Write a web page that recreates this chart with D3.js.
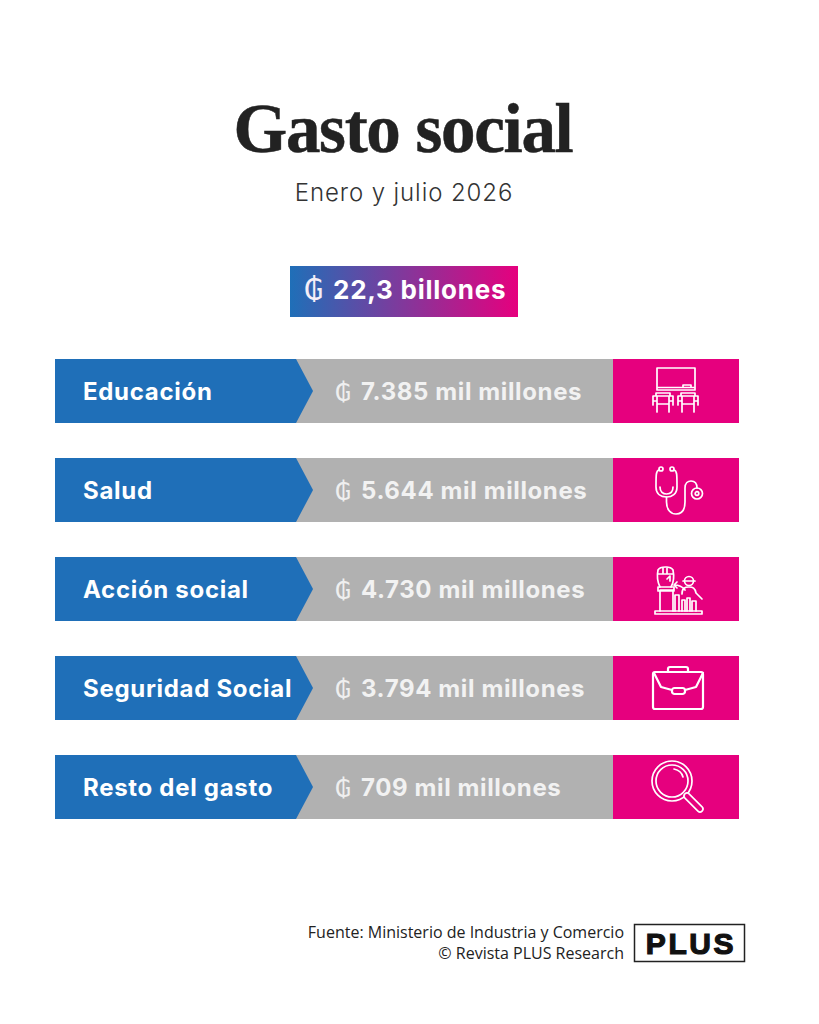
<!DOCTYPE html>
<html>
<head>
<meta charset="utf-8">
<script src="https://d3js.org/d3.v7.min.js"></script>
<style>
html, body { margin: 0; padding: 0; background: #fff; }
svg { display: block; }
text { font-family: Inter, sans-serif; }
</style>
</head>
<body>
<svg width="819" height="1024"></svg>
<script>
var categories = ["Educación", "Salud", "Acción social", "Seguridad Social", "Resto del gasto"];
var values = [7385, 5644, 4730, 3794, 709];
var icons = ["board", "steth", "fist", "case", "glass"];
var total = "22,3 billones";

var blue = "#1f6fb8", grey = "#b1b1b1", pink = "#e6007e";
var svg = d3.select("svg");

var es = d3.formatLocale({decimal: ",", thousands: ".", grouping: [3], currency: ["₲", ""]});
var fmt = es.format(",d");

var y = d3.scalePoint().domain(categories).range([359, 755]);
var barH = 64;

// gradient for the total
var grad = svg.append("defs").append("linearGradient").attr("id", "tot");
grad.append("stop").attr("offset", "0%").attr("stop-color", blue);
grad.append("stop").attr("offset", "100%").attr("stop-color", pink);

svg.append("text").attr("x", 403).attr("y", 152).attr("text-anchor", "middle")
    .style("font-family", "'Liberation Serif', serif").style("font-weight", 700)
    .style("font-size", "69px").style("letter-spacing", "-1.3px").attr("fill", "#222")
    .style("stroke", "#222").style("stroke-width", "0.5px")
    .text("Gasto social");

svg.append("text").attr("x", 404).attr("y", 201).attr("text-anchor", "middle")
    .style("font-weight", 300).style("font-size", "24px").style("letter-spacing", "0.9px").attr("fill", "#333")
    .text("Enero y julio 2026");

svg.append("rect").attr("x", 290).attr("y", 266).attr("width", 228).attr("height", 51).attr("fill", "url(#tot)");
svg.append("text").attr("x", 304).attr("y", 300)
    .style("font-family", "'DejaVu Sans'").style("font-size", "30px").attr("fill", "#f4eef8").text("₲");
svg.append("text").attr("x", 333).attr("y", 299)
    .style("font-weight", 700).style("font-size", "26px").style("letter-spacing", "0.75px").attr("fill", "#fff").text(total);

var row = svg.selectAll("g.row").data(categories).enter().append("g")
    .attr("class", "row")
    .attr("transform", function(d) { return "translate(0," + y(d) + ")"; });

row.append("rect").attr("x", 296).attr("width", 317).attr("height", barH).attr("fill", grey);
row.append("rect").attr("x", 613).attr("width", 126).attr("height", barH).attr("fill", pink);
row.append("path").attr("fill", blue)
    .attr("d", "M55,0H296L313," + barH / 2 + "L296," + barH + "H55Z");

row.append("text").attr("x", 83).attr("y", 41)
    .style("font-weight", 700).style("font-size", "24px").style("letter-spacing", "0.7px").attr("fill", "#fff")
    .text(function(d) { return d; });

row.append("text").attr("x", 335).attr("y", 42)
    .style("font-family", "'DejaVu Sans'").style("font-size", "25px").attr("fill", "#efefef").text("₲");

row.append("text").attr("x", 361).attr("y", 41)
    .style("font-weight", 700).style("font-size", "24px").style("letter-spacing", "0.62px").attr("fill", "#f2f2f2")
    .text(function(d, i) { return fmt(values[i]) + " mil millones"; });

// icons, drawn round the middle of each pink box
var ic = row.append("g")
    .attr("transform", "translate(676," + barH / 2 + ")")
    .attr("fill", "none").attr("stroke", "#fff").attr("stroke-width", 1.7)
    .attr("stroke-linejoin", "round").attr("stroke-linecap", "round");

var shapes = {
    board: function(g) {
        g.append("rect").attr("x", -19).attr("y", -23).attr("width", 38).attr("height", 22);
        g.append("path").attr("d", "M-18,-3.5H18M7,-3.5V-6H15V-3.5");
        [-13, 12].forEach(function(cx) {
            g.append("path").attr("d", "M" + (cx - 7) + ",5V2H" + (cx + 7) + "V5"
                + "M" + (cx - 10) + ",5H" + (cx + 10) + "M" + (cx - 10) + ",5V14M" + (cx + 10) + ",5V14"
                + "M" + (cx - 6) + ",5V21M" + (cx + 6) + ",5V21M" + (cx - 6) + ",13H" + (cx + 6)
                + "M" + (cx - 10) + ",10H" + (cx - 6) + "M" + (cx + 6) + ",10H" + (cx + 10));
        });
    },
    steth: function(g) {
        g.append("circle").attr("cx", -15).attr("cy", -21).attr("r", 2);
        g.append("circle").attr("cx", -4).attr("cy", -21).attr("r", 2);
        g.append("path").attr("d", "M-17,-20C-20,-19 -20,-16 -20,-3C-20,4 -15,7 -9.500,7C-4,7 1,4 1,-3C1,-16 1,-19 -2,-20");
        g.append("path").attr("d", "M-16,-3C-16,2 -13,4 -9.500,4C-6,4 -3,2 -3,-3");
        g.append("path").attr("d", "M-9.500,7V12C-9.500,20 -5,24 0,24C6,24 9,20 9,12V-2C9,-7 12,-9 15,-9C19,-9 21,-6 21,-2");
        g.append("circle").attr("cx", 21).attr("cy", 3.500).attr("r", 5.500);
        g.append("circle").attr("cx", 21).attr("cy", 3.500).attr("r", 1.800);
    },
    fist: function(g) {
        g.append("path").attr("d", "M-21,22H26V25H-21Z");
        g.append("path").attr("d", "M-16,22V1H-3V22M-18,-2H-2V2H-18Z");
        g.append("path").attr("d", "M-16,-2C-19,-8 -19,-14 -18,-19C-16,-23 -5,-23 -3,-19C-2,-14 -2,-7 -5,-2M-18,-15H-3M-13,-21V-15M-9,-22V-15M-9,-10L-6,-13V-8");
        g.append("path").attr("d", "M-1,22V6H3V22M6,22V11H9V22M11,22V9H14V22M16,22V12H20V22");
        g.append("circle").attr("cx", 13).attr("cy", -8).attr("r", 4.500);
        g.append("path").attr("d", "M7,-8H19M6,5C6,-1 9,-2 13,-2C17,-2 19,-1 20,4M20,4L26,10");
        g.append("path").attr("d", "M9,1C6,-3 3,-4 -2,-4M1,-7L-2,-4L1,-1");
    },
    "case": function(g) {
        g.append("rect").attr("x", -23).attr("y", -16).attr("width", 50).attr("height", 37).attr("rx", 2)
            .attr("stroke-width", 2.200);
        g.append("path").attr("stroke-width", 2.200)
            .attr("d", "M-8,-16V-19C-8,-21 -7,-21 -6,-21H10C11,-21 12,-21 12,-19V-16");
        g.append("path").attr("stroke-width", 2.200)
            .attr("d", "M-22,-15L-15,-1L-4,2M9,2L20,-1L27,-15");
        g.append("rect").attr("x", -4).attr("y", 0).attr("width", 13).attr("height", 6).attr("rx", 2.500).attr("stroke-width", 2.200);
    },
    glass: function(g) {
        g.append("circle").attr("cx", -4).attr("cy", -6).attr("r", 20);
        g.append("circle").attr("cx", -4).attr("cy", -6).attr("r", 16);
        g.append("path").attr("d", "M-2,-18C3,-17 6,-14 7,-10");
        g.append("path").attr("d", "M11,9L24,22").attr("stroke-width", 7.500);
        g.append("path").attr("d", "M11,9L24,22").attr("stroke", pink).attr("stroke-width", 4.200);
    }
};
ic.each(function(d, i) { shapes[icons[i]](d3.select(this)); });

// source
svg.append("text").attr("x", 624).attr("y", 938).attr("text-anchor", "end")
    .style("font-family", "'Open Sans'").style("font-size", "16px").attr("fill", "#222")
    .text("Fuente: Ministerio de Industria y Comercio");
svg.append("text").attr("x", 624).attr("y", 959).attr("text-anchor", "end")
    .style("font-family", "'Open Sans'").style("font-size", "16px").attr("fill", "#222")
    .text("© Revista PLUS Research");

svg.append("rect").attr("x", 634.500).attr("y", 924.500).attr("width", 110).attr("height", 37)
    .attr("fill", "#fff").attr("stroke", "#222").attr("stroke-width", 1.500);
svg.append("text").attr("x", 691).attr("y", 954).attr("text-anchor", "middle")
    .style("font-family", "'Liberation Sans'").style("font-weight", 700)
    .style("font-size", "30px").style("letter-spacing", "2.6px").style("stroke", "#111").style("stroke-width", "1.2px")
    .attr("fill", "#111").text("PLUS");
</script>
</body>
</html>
